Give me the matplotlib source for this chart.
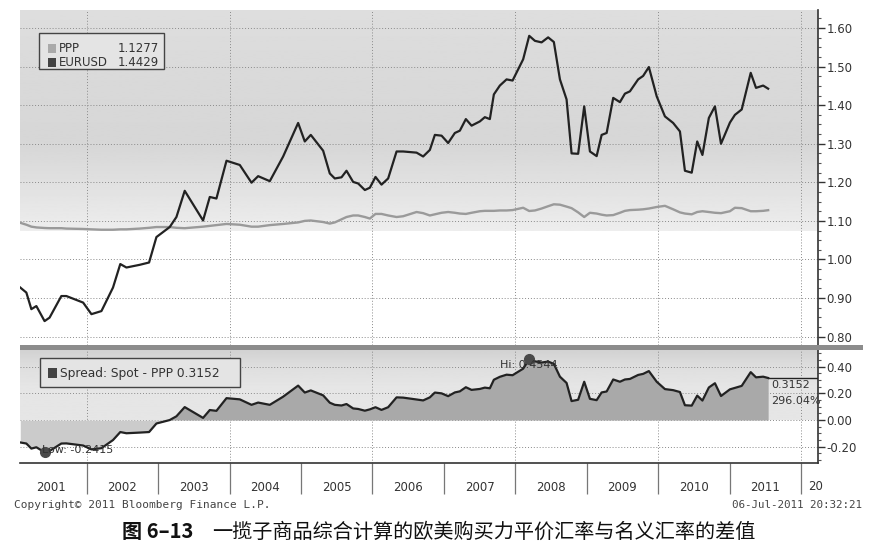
import numpy as np
import matplotlib
matplotlib.use("Agg")
import matplotlib.pyplot as plt
from matplotlib.patches import Rectangle
from matplotlib.ticker import MultipleLocator, FixedLocator

# monthly-ish readings, fractional years
dates = [2001.07, 2001.155, 2001.225, 2001.295, 2001.41, 2001.48, 2001.645, 2001.715, 2001.95,
         2002.066, 2002.206, 2002.368, 2002.47, 2002.556, 2002.742, 2002.873, 2002.976,
         2003.162, 2003.256, 2003.372, 2003.629, 2003.723, 2003.816, 2003.957,
         2004.143, 2004.307, 2004.40, 2004.563, 2004.75, 2004.96,
         2005.053, 2005.137, 2005.31, 2005.403, 2005.473, 2005.567, 2005.637, 2005.73, 2005.80,
         2005.894, 2005.964, 2006.043, 2006.127, 2006.22, 2006.338, 2006.43, 2006.618, 2006.71,
         2006.804, 2006.874, 2006.968, 2007.06, 2007.154, 2007.224, 2007.308, 2007.388, 2007.504,
         2007.574, 2007.644, 2007.70, 2007.784, 2007.878, 2007.962, 2008.11, 2008.195, 2008.275,
         2008.368, 2008.46, 2008.54, 2008.625, 2008.718, 2008.788, 2008.88, 2008.965,
         2009.045, 2009.139, 2009.209, 2009.279, 2009.371, 2009.465, 2009.535, 2009.605, 2009.72,
         2009.79, 2009.87, 2009.98, 2010.095, 2010.21, 2010.305, 2010.375, 2010.47, 2010.547,
         2010.62, 2010.71, 2010.795, 2010.88, 2011.005, 2011.075, 2011.17, 2011.296, 2011.37,
         2011.47, 2011.54]

eurusd = [0.927, 0.914, 0.871, 0.879, 0.840, 0.849, 0.905, 0.905, 0.888,
          0.858, 0.866, 0.927, 0.988, 0.979, 0.986, 0.992, 1.058,
          1.084, 1.110, 1.178, 1.101, 1.162, 1.158, 1.256,
          1.245, 1.199, 1.216, 1.203, 1.267, 1.354,
          1.306, 1.323, 1.282, 1.223, 1.210, 1.213, 1.230, 1.201, 1.197,
          1.180, 1.186, 1.214, 1.194, 1.210, 1.280, 1.280, 1.277, 1.267,
          1.284, 1.323, 1.321, 1.302, 1.328, 1.334, 1.364, 1.347, 1.358,
          1.369, 1.364, 1.428, 1.451, 1.467, 1.464, 1.519, 1.580, 1.567,
          1.563, 1.576, 1.564, 1.467, 1.415, 1.275, 1.274, 1.397,
          1.280, 1.268, 1.323, 1.328, 1.419, 1.408, 1.430, 1.436, 1.467,
          1.476, 1.499, 1.423, 1.371, 1.354, 1.332, 1.230, 1.225, 1.306,
          1.271, 1.367, 1.397, 1.300, 1.355, 1.375, 1.389, 1.484, 1.445,
          1.451, 1.4429]

ppp = [1.095, 1.090, 1.085, 1.083, 1.0815, 1.081, 1.081, 1.080, 1.079,
       1.078, 1.077, 1.077, 1.078, 1.078, 1.080, 1.082, 1.084,
       1.084, 1.082, 1.081, 1.085, 1.087, 1.089, 1.092,
       1.090, 1.085, 1.085, 1.089, 1.092, 1.096,
       1.100, 1.101, 1.097, 1.093, 1.096, 1.104, 1.110, 1.114, 1.114,
       1.110, 1.106, 1.118, 1.118, 1.114, 1.110, 1.112, 1.123, 1.120,
       1.114, 1.117, 1.121, 1.123, 1.121, 1.119, 1.118, 1.121, 1.125,
       1.126, 1.126, 1.126, 1.127, 1.127, 1.128, 1.134, 1.1256, 1.127,
       1.132, 1.138, 1.143, 1.142, 1.137, 1.133, 1.122, 1.110,
       1.121, 1.119, 1.116, 1.114, 1.115, 1.121, 1.126, 1.128, 1.129,
       1.130, 1.132, 1.136, 1.139, 1.130, 1.122, 1.119, 1.117, 1.123,
       1.125, 1.123, 1.121, 1.120, 1.125, 1.134, 1.133, 1.125, 1.125,
       1.126, 1.1277]

years = list(range(2001, 2013))
top_ticks = [0.80, 0.90, 1.00, 1.10, 1.20, 1.30, 1.40, 1.50, 1.60]
bot_ticks = [-0.20, 0.00, 0.20, 0.40]

dates = np.array(dates)
eurusd = np.array(eurusd)
ppp = np.array(ppp)
spread = eurusd - ppp

W, H = 883, 550
def fx(px):
    return px / W
def fy(py):
    return 1 - py / H

XMIN, XMAX = 2001.066, 2012.238
dark = "#222222"
txt = "#333333"
gridc = "#8a8a8a"

fig = plt.figure(figsize=(8.83, 5.5), dpi=100)
fig.patch.set_facecolor("white")

# ---------- top panel ----------
ax1 = fig.add_axes([fx(20), fy(345), fx(818) - fx(20), fy(10) - fy(345)])
lv = np.interp(np.linspace(1.647, 1.075, 200), [1.075, 1.20, 1.30, 1.45, 1.647],
               [0.93, 0.88, 0.84, 0.85, 0.87])
ax1.imshow(lv.reshape(-1, 1), extent=[XMIN, XMAX, 1.075, 1.647], aspect="auto",
           cmap="gray", vmin=0, vmax=1, zorder=0)
ax1.plot(dates, ppp, color="#9a9a9a", lw=1.7, zorder=3)
ax1.plot(dates, eurusd, color=dark, lw=1.6, zorder=4)
ax1.set_xlim(XMIN, XMAX)
ax1.set_ylim(0.778, 1.647)
ax1.yaxis.tick_right()
ax1.yaxis.set_major_locator(FixedLocator(top_ticks))
ax1.set_yticklabels([f"{t:.2f}" for t in top_ticks])
ax1.yaxis.set_minor_locator(MultipleLocator(0.025))
ax1.set_xticks([])
ax1.grid(axis="y", which="major", ls=(0, (1, 2)), color=gridc, lw=0.7, zorder=1)
for yr in years[1::2]:
    ax1.axvline(yr, ls=(0, (1, 2)), color=gridc, lw=0.7, zorder=1)

# legend box top
fig.add_artist(Rectangle((fx(39), fy(69)), fx(164) - fx(39), fy(33) - fy(69),
                         transform=fig.transFigure, facecolor="#e4e4e4",
                         edgecolor="#444444", lw=1, zorder=5))
fig.add_artist(Rectangle((fx(48), fy(53)), 8 / W, 9 / H, transform=fig.transFigure,
                         facecolor="#aaaaaa", edgecolor="none", zorder=6))
fig.add_artist(Rectangle((fx(48), fy(67)), 8 / W, 9 / H, transform=fig.transFigure,
                         facecolor="#444444", edgecolor="none", zorder=6))
fig.text(fx(59), fy(49), "PPP", fontsize=8.5, color=txt, va="center", zorder=7)
fig.text(fx(159), fy(49), f"{ppp[-1]:.4f}", fontsize=8.5, color=txt, va="center", ha="right", zorder=7)
fig.text(fx(59), fy(62), "EURUSD", fontsize=8.5, color=txt, va="center", zorder=7)
fig.text(fx(159), fy(62), f"{eurusd[-1]:.4f}", fontsize=8.5, color=txt, va="center", ha="right", zorder=7)

# ---------- separator bar ----------
fig.add_artist(Rectangle((fx(20), fy(350)), fx(863) - fx(20), 5 / H,
                         transform=fig.transFigure, facecolor="#8c8c8c",
                         edgecolor="none", zorder=8))

# ---------- bottom panel ----------
ax2 = fig.add_axes([fx(20), fy(463), fx(818) - fx(20), fy(350) - fy(463)])
lv2 = np.interp(np.linspace(0.525, 0.0, 100), [0.0, 0.25, 0.40, 0.525],
                [0.90, 0.90, 0.87, 0.82])
ax2.imshow(lv2.reshape(-1, 1), extent=[XMIN, XMAX, 0.0, 0.525], aspect="auto",
           cmap="gray", vmin=0, vmax=1, zorder=0)
ax2.fill_between(dates, spread, 0, where=spread >= 0, interpolate=True,
                 color="#a9a9a9", lw=0, zorder=2)
ax2.fill_between(dates, spread, 0, where=spread <= 0, interpolate=True,
                 color="#cbcbcb", lw=0, zorder=2)
ax2.plot(dates, spread, color=dark, lw=1.6, zorder=4)
ax2.hlines(spread[-1], dates[-1], XMAX, color=dark, lw=1, zorder=4)
ax2.set_xlim(XMIN, XMAX)
ax2.set_ylim(-0.322, 0.525)
ax2.yaxis.tick_right()
ax2.yaxis.set_major_locator(FixedLocator(bot_ticks))
ax2.set_yticklabels([f"{t:.2f}" for t in bot_ticks])
ax2.yaxis.set_minor_locator(MultipleLocator(0.05))
ax2.grid(axis="y", which="major", ls=(0, (1, 2)), color=gridc, lw=0.7, zorder=1)
for yr in years[1::2]:
    ax2.axvline(yr, ls=(0, (1, 2)), color=gridc, lw=0.7, zorder=1)

# year axis
ax2.xaxis.set_major_locator(FixedLocator(years[1:]))
ax2.xaxis.set_minor_locator(FixedLocator([y + 0.5 for y in years[:-1]]))
ax2.xaxis.set_major_formatter(plt.NullFormatter())
ax2.set_xticklabels([str(y) for y in years[:-1]], minor=True)
ax2.tick_params(axis="x", which="major", length=22, width=0.9, color="#777777", direction="out")
ax2.tick_params(axis="x", which="minor", length=0, pad=13, labelsize=8.5, labelcolor=txt)
fig.text(fx(808), fy(486), "20", fontsize=8.5, color=txt, va="center")

# hi / low markers
ihi = int(np.argmax(spread))
ilo = int(np.argmin(spread))
ax2.plot(dates[ihi], spread[ihi], "o", ms=7, color="#4a4a4a", zorder=6)
ax2.plot(dates[ilo], spread[ilo], "o", ms=7, color="#4a4a4a", zorder=6)
ax2.text(2007.78, 0.415, f"Hi: {spread[ihi]:.4f}", fontsize=8, color=txt, va="center", zorder=7)
ax2.text(2001.37, -0.225, f"Low: {spread[ilo]:.4f}", fontsize=8, color=txt, va="center", zorder=7)
ax2.text(2011.58, 0.265, f"{spread[-1]:.4f}", fontsize=8, color=txt, va="center", zorder=7)
ax2.text(2011.58, 0.14, "296.04%", fontsize=8, color=txt, va="center", zorder=7)

# legend box bottom
fig.add_artist(Rectangle((fx(40), fy(387)), fx(240) - fx(40), fy(358) - fy(387),
                         transform=fig.transFigure, facecolor="#e4e4e4",
                         edgecolor="#444444", lw=1, zorder=5))
fig.add_artist(Rectangle((fx(48), fy(378)), 9 / W, 10 / H, transform=fig.transFigure,
                         facecolor="#444444", edgecolor="none", zorder=6))
fig.text(fx(60), fy(373), f"Spread: Spot - PPP {spread[-1]:.4f}", fontsize=8.8,
         color=txt, va="center", zorder=7)

for ax in (ax1, ax2):
    ax.set_facecolor("white")
    ax.spines["top"].set_visible(False)
    ax.spines["left"].set_visible(False)
    ax.spines["right"].set_color("#333333")
    ax.spines["right"].set_linewidth(1.2)
    ax.tick_params(axis="y", which="major", length=5, width=1, color="#333333",
                   pad=1, labelsize=8.5, labelcolor=txt)
    ax.tick_params(axis="y", which="minor", length=2.5, width=0.8, color="#555555")
ax1.spines["bottom"].set_visible(False)
ax2.spines["bottom"].set_color("#333333")
ax2.spines["bottom"].set_linewidth(1.2)

# footer
fig.text(fx(14), fy(505), "Copyright\u00a9 2011 Bloomberg Finance L.P.", family="DejaVu Sans Mono",
         fontsize=8, color="#444444", va="center")
fig.text(fx(862), fy(505), "06-Jul-2011 20:32:21", family="DejaVu Sans Mono",
         fontsize=7.8, color="#444444", va="center", ha="right")
fig.text(fx(122), fy(532), "图 6–13", family=["Noto Sans CJK SC", "DejaVu Sans"],
         fontsize=14.5, weight="bold", color="#111111", va="center")
fig.text(fx(212), fy(532), "一揽子商品综合计算的欧美购买力平价汇率与名义汇率的差值",
         family=["Noto Sans CJK SC", "DejaVu Sans"], fontsize=14.5, weight="medium",
         color="#111111", va="center")

fig.savefig("out.png", dpi=100)
